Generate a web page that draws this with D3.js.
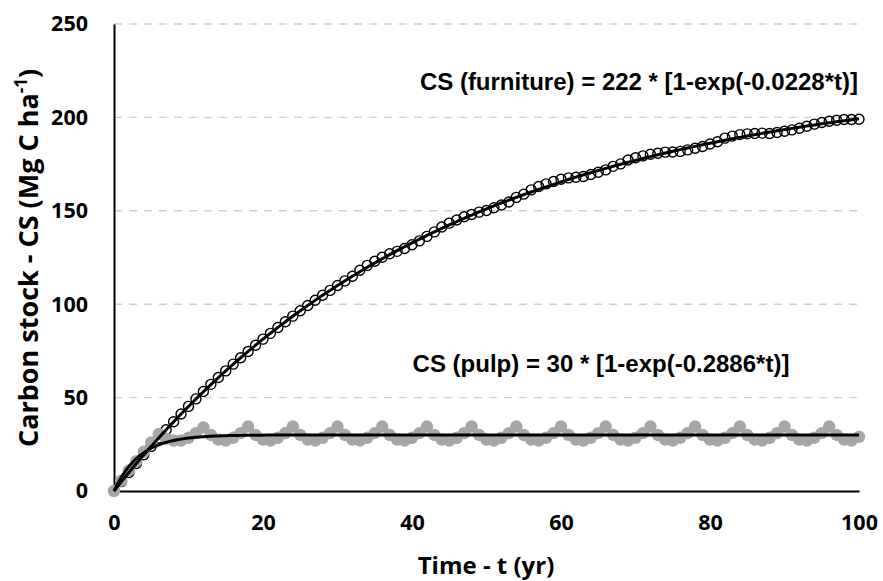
<!DOCTYPE html>
<html>
<head>
<meta charset="utf-8">
<script src="https://cdn.jsdelivr.net/npm/d3@7"></script>
<style>
  html, body { margin: 0; padding: 0; background: #fff; }
  svg { display: block; }
</style>
</head>
<body>
<svg id="chart" width="883" height="581"></svg>
<script>
// ---- data ----
const years = d3.range(0, 101);

const furnitureCS = [
  0, 5.0, 9.9, 14.7, 19.4, 23.9, 28.4, 32.8, 37.1, 41.2, 45.3, 49.3, 53.3,
  57.1, 60.8, 64.3, 67.9, 71.3, 74.7, 78.0, 81.3, 84.4, 87.5, 90.6, 93.6,
  96.5, 99.3, 102.1, 104.8, 107.4, 110.0, 112.5, 115.0, 118.2, 120.8, 123.0, 125.1,
  127.0, 128.3, 129.8, 131.8, 133.9, 136.3, 138.7, 141.3, 143.4, 145.1, 146.8, 148.0,
  149.3, 150.2, 151.6, 153.1, 154.7, 157.2, 158.9, 161.2, 163.0, 164.4, 165.7, 166.9,
  167.6, 168.0, 168.4, 169.4, 170.6, 171.9, 173.8, 175.1, 177.2, 178.4, 179.4, 180.3,
  180.8, 181.4, 181.5, 181.8, 182.6, 183.5, 184.4, 185.8, 187.0, 188.9, 190.0, 190.8,
  191.2, 191.4, 191.6, 191.4, 191.9, 192.6, 193.3, 194.2, 195.3, 196.4, 197.3, 197.9,
  198.5, 198.9, 198.9, 199.0
];

const pulpCS = [
  0, 5.5, 11, 16, 21, 26, 30.5, 28, 27, 27, 28.5, 31, 34,
  30, 27.5, 27, 28.5, 31, 34.5,
  30, 27.5, 27, 28.5, 31, 34.5,
  30, 27.5, 27, 28.5, 31, 34.5,
  30, 27.5, 27, 28.5, 31, 34.5,
  30, 27.5, 27, 28.5, 31, 34.5,
  30, 27.5, 27, 28.5, 31, 34.5,
  30, 27.5, 27, 28.5, 31, 34.5,
  30, 27.5, 27, 28.5, 31, 34.5,
  30, 27.5, 27, 28.5, 31, 34.5,
  30, 27.5, 27, 28.5, 31, 34.5,
  30, 27.5, 27, 28.5, 31, 34.5,
  30, 27.5, 27, 28.5, 31, 34.5,
  30, 27.5, 27, 28.5, 31, 34.5,
  30, 27.5, 27, 28.5, 31, 34.5,
  30, 27.5, 27, 29
];

// fitted model parameters (from the equations shown on the chart)
const furnitureFit = { a: 222, k: 0.0228 };
const pulpFit = { a: 30, k: 0.2886 };

const xTicks = [0, 20, 40, 60, 80, 100];
const yTicks = [0, 50, 100, 150, 200, 250];

const furnitureLabel = "CS (furniture) = 222 * [1-exp(-0.0228*t)]";
const pulpLabel = "CS (pulp) = 30 * [1-exp(-0.2886*t)]";

// ---- drawing ----
const svg = d3.select("#chart");
const x = d3.scaleLinear().domain([0, 100]).range([114, 859]);
const y = d3.scaleLinear().domain([0, 250]).range([491, 24]);

const tickFont = "'Open Sans', 'DejaVu Sans', sans-serif";
const eqFont = "'Liberation Sans', Arial, sans-serif";

// gridlines
svg.append("g").selectAll("line")
  .data(yTicks.filter(d => d > 0))
  .join("line")
  .attr("x1", x(0)).attr("x2", x(100))
  .attr("y1", d => y(d)).attr("y2", d => y(d))
  .attr("stroke", "#d0d0d0")
  .attr("stroke-width", 1.4)
  .attr("stroke-dasharray", "8,7");

// axes
const yAxis = d3.axisLeft(y).tickValues(yTicks).tickSize(0).tickPadding(26).tickSizeOuter(0);
const xAxis = d3.axisBottom(x).tickValues(xTicks).tickSize(0).tickPadding(24).tickSizeOuter(0);

const gy = svg.append("g").attr("transform", `translate(${x(0)},0)`).call(yAxis);
const gx = svg.append("g").attr("transform", `translate(0,${y(0)})`).call(xAxis);
[gx, gy].forEach(g => {
  g.select(".domain").attr("stroke", "#000").attr("stroke-width", 2);
  g.selectAll("text")
    .attr("font-family", tickFont)
    .attr("font-weight", "bold")
    .attr("font-size", 21.5)
    .attr("fill", "#000");
});

// furniture observations (open circles)
svg.append("g").selectAll("circle")
  .data(years)
  .join("circle")
  .attr("cx", d => x(d))
  .attr("cy", (d, i) => y(furnitureCS[i]))
  .attr("r", 5)
  .attr("fill", "none")
  .attr("stroke", "#000")
  .attr("stroke-width", 1.4);

// pulp observations (grey dots)
svg.append("g").selectAll("circle")
  .data(years)
  .join("circle")
  .attr("cx", d => x(d))
  .attr("cy", (d, i) => y(pulpCS[i]))
  .attr("r", 6.2)
  .attr("fill", "#a6a6a6");

// fitted curves
const fitT = d3.range(0, 100.01, 0.5);
const line = d3.line().x(d => x(d[0])).y(d => y(d[1]));
[pulpFit, furnitureFit].forEach(f => {
  svg.append("path")
    .datum(fitT.map(t => [t, f.a * (1 - Math.exp(-f.k * t))]))
    .attr("d", line)
    .attr("fill", "none")
    .attr("stroke", "#000")
    .attr("stroke-width", 3);
});

// equations
svg.append("text")
  .attr("x", 858).attr("y", 90)
  .attr("text-anchor", "end")
  .attr("font-family", eqFont).attr("font-weight", "bold").attr("font-size", 24)
  .text(furnitureLabel);
svg.append("text")
  .attr("x", 601).attr("y", 372)
  .attr("text-anchor", "middle")
  .attr("font-family", eqFont).attr("font-weight", "bold").attr("font-size", 24)
  .text(pulpLabel);

// axis titles
svg.append("text")
  .attr("x", 486).attr("y", 574)
  .attr("text-anchor", "middle")
  .attr("font-family", tickFont).attr("font-weight", "bold").attr("font-size", 24)
  .text("Time - t (yr)");

const yt = svg.append("text")
  .attr("transform", "translate(38,258) rotate(-90)")
  .attr("text-anchor", "middle")
  .attr("font-family", tickFont).attr("font-weight", "bold").attr("font-size", 27)
  ;
yt.append("tspan").text("Carbon stock - CS (Mg C ha");
yt.append("tspan").attr("baseline-shift", "super").attr("font-size", 17).text("-1");
yt.append("tspan").text(")");
</script>
</body>
</html>
